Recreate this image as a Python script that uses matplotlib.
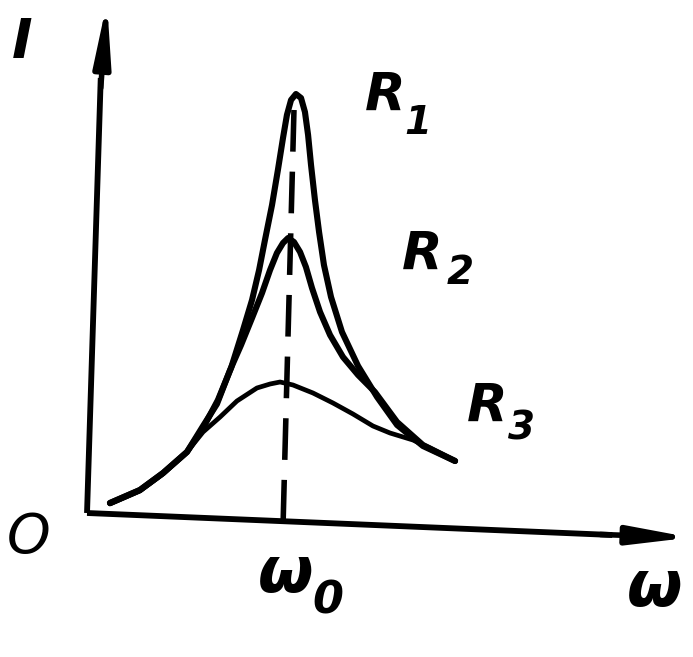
import matplotlib
matplotlib.use("Agg")
import matplotlib.pyplot as plt

# resonance curves (omega in units of omega_0, I arbitrary)
w_r1 = [0.117, 0.270, 0.388, 0.510, 0.592, 0.668, 0.735, 0.796, 0.842, 0.878,
        0.908, 0.944, 0.974, 1.000, 1.020, 1.041, 1.066, 1.092, 1.112, 1.128,
        1.143, 1.163, 1.184, 1.209, 1.245, 1.301, 1.383, 1.480, 1.582, 1.714,
        1.878]
i_r1 = [0.10, 0.23, 0.40, 0.61, 0.85, 1.13, 1.45, 1.83, 2.13, 2.43,
        2.73, 3.08, 3.43, 3.75, 3.98, 4.13, 4.19, 4.15, 4.01, 3.78,
        3.48, 3.13, 2.81, 2.48, 2.16, 1.81, 1.47, 1.16, 0.88, 0.67,
        0.52]

w_r2 = [0.117, 0.270, 0.388, 0.510, 0.592, 0.663, 0.730, 0.786, 0.842, 0.893,
        0.934, 0.969, 1.000, 1.026, 1.056, 1.087, 1.117, 1.148, 1.189, 1.240,
        1.306, 1.383, 1.469, 1.582, 1.714, 1.878]
i_r2 = [0.10, 0.23, 0.40, 0.61, 0.87, 1.09, 1.43, 1.68, 1.95, 2.20,
        2.43, 2.60, 2.70, 2.75, 2.71, 2.61, 2.46, 2.25, 2.01, 1.78,
        1.56, 1.38, 1.21, 0.91, 0.68, 0.52]

w_r3 = [0.117, 0.270, 0.388, 0.510, 0.592, 0.679, 0.765, 0.867, 0.934, 0.985,
        1.051, 1.153, 1.255, 1.357, 1.459, 1.546, 1.663, 1.750, 1.878]
i_r3 = [0.09, 0.22, 0.39, 0.61, 0.81, 0.96, 1.12, 1.25, 1.29, 1.31,
        1.28, 1.20, 1.10, 0.99, 0.87, 0.80, 0.73, 0.65, 0.52]

labels = ["R", "R", "R"]
subs = ["1", "2", "3"]

fig = plt.figure(figsize=(6.93, 6.57), dpi=100)
ax = fig.add_axes([0, 0, 1, 1])
ax.set_xlim(-0.444, 3.092)
ax.set_ylim(-1.44, 5.13)
ax.axis("off")

font = dict(family="DejaVu Sans", style="italic", weight="bold", color="black")

# axes with arrows (hand drawn, slightly tilted)
ax.plot([0, 0.07], [0, 4.35], color="black", lw=4.2, solid_capstyle="butt")
ax.annotate("", xy=(0.102, 5.11), xytext=(0.07, 4.25), annotation_clip=False,
            arrowprops=dict(arrowstyle="-|>,head_length=3.6,head_width=0.5",
                            color="black", lw=4, shrinkA=0, shrinkB=0))
ax.plot([0, 2.68], [0, -0.22], color="black", lw=4.2, solid_capstyle="butt")
ax.annotate("", xy=(3.08, -0.245), xytext=(2.62, -0.215), annotation_clip=False,
            arrowprops=dict(arrowstyle="-|>,head_length=3.6,head_width=0.55",
                            color="black", lw=4, shrinkA=0, shrinkB=0))

# curves
for w, i, lw in [(w_r1, i_r1, 4.4), (w_r2, i_r2, 4.4), (w_r3, i_r3, 3.4)]:
    ax.plot(w, i, color="black", lw=lw, solid_joinstyle="round",
            solid_capstyle="round")

# dashed resonance line
ax.plot([1.056, 1.0], [4.03, -0.14], color="black", lw=4,
        linestyle=(0, (7.5, 3.6)))

# labels
ax.text(-0.33, 4.70, "I", fontsize=40, ha="center", va="center", **font)
ax.text(-0.30, -0.24, "O", fontsize=40, ha="center", va="center",
        family="DejaVu Sans", style="italic", color="black")
ax.text(1.015, -0.61, "\u03c9", fontsize=46, ha="center", va="center", **font)
ax.text(1.230, -0.88, "0", fontsize=32, ha="center", va="center",
        family="DejaVu Sans", style="italic", weight="bold", color="black")
ax.text(2.898, -0.75, "\u03c9", fontsize=46, ha="center", va="center", **font)

lab_pos = [(1.520, 4.17), (1.709, 2.58), (2.040, 1.06)]
sub_pos = [(1.690, 3.90), (1.903, 2.40), (2.215, 0.84)]
for (x, y), (sx, sy), lab, s in zip(lab_pos, sub_pos, labels, subs):
    ax.text(x, y, lab, fontsize=38, ha="center", va="center", **font)
    ax.text(sx, sy, s, fontsize=28, ha="center", va="center", **font)

fig.savefig("out.png", dpi=100, facecolor="white")
